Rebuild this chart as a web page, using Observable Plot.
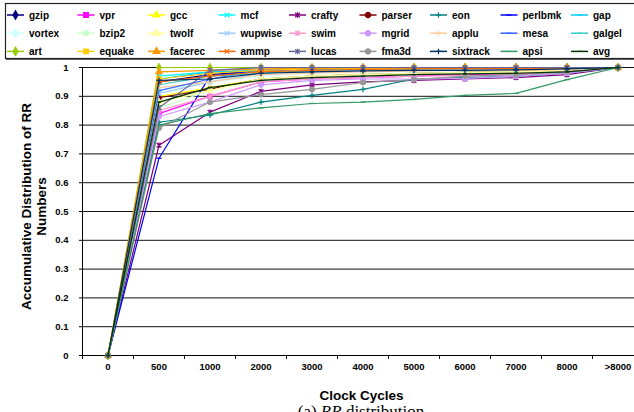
<!DOCTYPE html>
<html><head><meta charset="utf-8">
<script src="https://cdn.jsdelivr.net/npm/d3@7"></script>
<script src="https://cdn.jsdelivr.net/npm/@observablehq/plot@0.6"></script>
<style>
html,body{margin:0;padding:0;background:#fff;overflow:hidden}
#wrap{position:relative;width:634px;height:412px;overflow:hidden;background:#fff}
#wrap > svg{position:absolute;left:0;top:0}
</style></head>
<body><div id="wrap"></div>
<script>
// ---- categories & tick labels ----
const categories = ["0","500","1000","2000","3000","4000","5000","6000","7000","8000",">8000"];
const yTicks = [0,0.1,0.2,0.3,0.4,0.5,0.6,0.7,0.8,0.9,1];
const yTickLabels = ["0","0.1","0.2","0.3","0.4","0.5","0.6","0.7","0.8","0.9","1"];
const xTitle = "Clock Cycles";
const yTitle = "Accumulative Distribution of RR\nNumbers";

// ---- series values (cumulative fraction per category) ----
const gzip     = [0,0.950,0.975,0.990,0.995,0.997,0.998,0.998,0.999,0.999,1];
const vpr      = [0,0.840,0.900,0.950,0.960,0.965,0.970,0.975,0.978,0.985,1];
const gcc      = [0,0.900,0.930,0.960,0.970,0.975,0.980,0.983,0.985,0.990,1];
const mcf      = [0,0.970,0.985,0.990,0.995,0.997,0.998,0.998,0.999,0.999,1];
const crafty   = [0,0.730,0.845,0.917,0.940,0.950,0.955,0.960,0.965,0.975,1];
const parser   = [0,0.895,0.925,0.960,0.970,0.975,0.980,0.983,0.985,0.990,1];
const eon      = [0,0.810,0.835,0.880,0.903,0.924,0.960,0.965,0.970,0.980,1];
const perlbmk  = [0,0.685,0.970,0.990,0.995,0.997,0.998,0.998,0.999,0.999,1];
const gap      = [0,0.960,0.985,0.990,0.995,0.997,0.998,0.998,0.999,0.999,1];
const vortex   = [0,0.920,0.950,0.970,0.980,0.985,0.988,0.990,0.992,0.995,1];
const bzip2    = [0,0.860,0.920,0.960,0.970,0.975,0.980,0.983,0.985,0.990,1];
const twolf    = [0,0.880,0.920,0.960,0.970,0.975,0.980,0.982,0.985,0.990,1];
const wupwise  = [0,0.910,0.950,0.980,0.985,0.990,0.990,0.992,0.993,0.995,1];
const swim     = [0,0.850,0.900,0.950,0.960,0.965,0.970,0.972,0.975,0.985,1];
const mgrid    = [0,0.830,0.880,0.940,0.955,0.960,0.960,0.962,0.970,0.980,1];
const applu    = [0,0.930,0.950,0.975,0.980,0.985,0.988,0.990,0.990,0.993,1];
const mesa     = [0,0.920,0.960,0.990,0.995,0.997,0.998,0.998,0.999,0.999,1];
const galgel   = [0,0.940,0.970,0.980,0.990,0.993,0.995,0.996,0.997,0.998,1];
const art      = [0,1.000,1.000,1.000,1.000,1.000,1.000,1.000,1.000,1.000,1];
const equake   = [0,0.960,0.980,0.990,0.995,0.997,0.998,0.998,0.999,0.999,1];
const facerec  = [0,0.985,0.990,0.995,0.998,0.999,1.000,1.000,1.000,1.000,1];
const ammp     = [0,0.950,0.970,0.985,0.990,0.993,0.995,0.996,0.997,0.998,1];
const lucas    = [0,0.860,0.990,1.000,1.000,1.000,1.000,1.000,1.000,1.000,1];
const fma3d    = [0,0.790,0.880,0.906,0.924,0.948,0.958,0.970,0.975,0.985,1];
const sixtrack = [0,0.955,0.960,0.980,0.985,0.988,0.990,0.990,0.992,0.995,1];
const apsi     = [0,0.800,0.840,0.860,0.875,0.880,0.889,0.903,0.910,0.958,1];
const avg      = [0,0.880,0.930,0.955,0.965,0.970,0.975,0.978,0.980,0.985,1];

const seriesNames = ["gzip","vpr","gcc","mcf","crafty","parser","eon","perlbmk","gap",
  "vortex","bzip2","twolf","wupwise","swim","mgrid","applu","mesa","galgel",
  "art","equake","facerec","ammp","lucas","fma3d","sixtrack","apsi","avg"];
const seriesValues = [gzip,vpr,gcc,mcf,crafty,parser,eon,perlbmk,gap,
  vortex,bzip2,twolf,wupwise,swim,mgrid,applu,mesa,galgel,
  art,equake,facerec,ammp,lucas,fma3d,sixtrack,apsi,avg];
const seriesColors = ["#000080","#FF00FF","#FFFF00","#00FFFF","#800080","#800000","#008080","#0000FF","#00CCFF",
  "#CCFFFF","#CCFFCC","#FFFF99","#99CCFF","#FF99CC","#CC99FF","#FFCC99","#3366FF","#33CCCC",
  "#99CC00","#FFCC00","#FF9900","#FF6600","#666699","#969696","#003366","#339966","#003300"];
const markerCycle = ["diamond","square","triangle","times","star","circle","plus","dash","shortdash"];

// ---- marker shapes ----
const symTimes = {draw(c,s){const r=Math.sqrt(s)/2;c.moveTo(-r,-r);c.lineTo(r,r);c.moveTo(r,-r);c.lineTo(-r,r);}};
const symStar = {draw(c,s){const r=Math.sqrt(s)/2;c.moveTo(-r,-r);c.lineTo(r,r);c.moveTo(r,-r);c.lineTo(-r,r);c.moveTo(0,-r*1.2);c.lineTo(0,r*1.2);}};
const symPlus = {draw(c,s){const r=Math.sqrt(s)/2*1.2;c.moveTo(-r,0);c.lineTo(r,0);c.moveTo(0,-r);c.lineTo(0,r);}};
const symDash = {draw(c,s){const r=Math.sqrt(s)/2*1.1;c.moveTo(-r,0);c.lineTo(r,0);}};
const symShort = {draw(c,s){const r=Math.sqrt(s)/2*0.8;c.moveTo(-r,0);c.lineTo(r,0);}};
const symbolDefs = {
  diamond: {type: d3.symbolDiamond, filled: true},
  square: {type: d3.symbolSquare, filled: true},
  triangle: {type: d3.symbolTriangle, filled: true},
  circle: {type: d3.symbolCircle, filled: true},
  times: {type: symTimes, filled: false},
  star: {type: symStar, filled: false},
  plus: {type: symPlus, filled: false},
  dash: {type: symDash, filled: false},
  shortdash: {type: symShort, filled: false}
};

const series = seriesNames.map((name, k) => ({
  name, color: seriesColors[k], sym: symbolDefs[markerCycle[k % markerCycle.length]],
  rows: seriesValues[k].map((v, i) => ({i, v}))
}));

const xEdges = d3.range(categories.length + 1).map(i => i - 0.5);
const xLo = -0.5, xHi = categories.length - 0.5;
const wrap = document.getElementById("wrap");

// ---- layer 1: legend & caption ----
const ov = d3.select(wrap).append("svg").attr("width", 634).attr("height", 412)
  .style("font-family", "Arial, 'Liberation Sans', sans-serif");
ov.append("rect").attr("x", 6.5).attr("y", 4.5).attr("width", 640).attr("height", 55)
  .attr("fill", "none").attr("stroke", "#666").attr("stroke-width", 1);
ov.append("rect").attr("x", 5.5).attr("y", 3.5).attr("width", 640).attr("height", 55)
  .attr("fill", "#fff").attr("stroke", "#222").attr("stroke-width", 1.2);
series.forEach((s, k) => {
  const col = k % 9, row = Math.floor(k / 9);
  const x0 = 7 + col * 70.5, y0 = 15 + row * 18.2;
  const g = ov.append("g").attr("transform", `translate(${x0},${y0})`);
  g.append("line").attr("x1", 0).attr("x2", 17).attr("y1", 0).attr("y2", 0).attr("stroke", s.color).attr("stroke-width", 1.5);
  g.append("path").attr("transform", "translate(8.5,0)").attr("d", d3.symbol(s.sym.type, 21)())
    .attr("fill", s.sym.filled ? s.color : "none").attr("stroke", s.color).attr("stroke-width", 1.2);
  g.append("text").attr("x", 22).attr("y", 0).attr("dy", "0.35em").attr("font-size", 10).attr("font-weight", "bold").text(s.name);
});
const cap = ov.append("text").attr("x", 361).attr("y", 417).attr("text-anchor", "middle")
  .attr("font-family", "'Liberation Serif', 'Times New Roman', serif").attr("font-size", 17);
cap.append("tspan").text("(a) ");
cap.append("tspan").attr("font-style", "italic").text("RR");
cap.append("tspan").text(" distribution");

// ---- shared scale options ----
const frame = {width: 634, height: 412, marginLeft: 82, marginTop: 67, marginBottom: 57, marginRight: 0};
const baseStyle = {fontFamily: "Arial, 'Liberation Sans', sans-serif", fontSize: "9.5px", fontWeight: "bold", background: "transparent", color: "#000"};

// ---- layer 2: horizontal gridlines ----
const grid = Plot.plot({
  ...frame, style: baseStyle,
  x: {type: "linear", domain: [xLo, xHi], range: [82, 643], axis: null},
  y: {domain: [0, 1], range: [355, 67], axis: null},
  marks: [Plot.ruleY(yTicks.filter(d => d > 0), {stroke: "#111", strokeWidth: 1})]
});
wrap.appendChild(grid);

// ---- layer 3: axes & series ----
const marks = [];
for (const s of series) {
  marks.push(Plot.line(s.rows, {x: "i", y: "v", stroke: s.color, strokeWidth: 1.2}));
  marks.push(Plot.dot(s.rows, {x: "i", y: "v", symbol: s.sym.type, r: 2.6,
    fill: s.sym.filled ? s.color : "none", stroke: s.color, strokeWidth: s.sym.filled ? 0.8 : 1.3}));
}
marks.push(Plot.text(categories, {x: (d, i) => i, text: d => d, frameAnchor: "bottom", dy: 14, fontSize: 9.5, fontWeight: "bold"}));
marks.push(Plot.text([xTitle], {text: d => d, frameAnchor: "bottom", dx: 3, dy: 44, fontSize: 13.5, fontWeight: "bold"}));
marks.push(Plot.text([yTitle], {text: d => d, frameAnchor: "left", textAnchor: "middle", lineAnchor: "middle", rotate: -90, dx: -49, dy: -5, fontSize: 13.5, fontWeight: "bold", lineHeight: 1.1}));

const chart = Plot.plot({
  ...frame, style: baseStyle,
  x: {type: "linear", domain: [xLo, xHi], range: [82, 643], ticks: xEdges, tickFormat: () => "", tickSize: 4, line: true, label: null},
  y: {domain: [0, 1], range: [355, 67], ticks: yTicks, tickFormat: d => yTickLabels[Math.round(d * 10)], tickSize: 3, tickPadding: 11, line: true, label: null},
  marks
});
wrap.appendChild(chart);
</script>
</body></html>
